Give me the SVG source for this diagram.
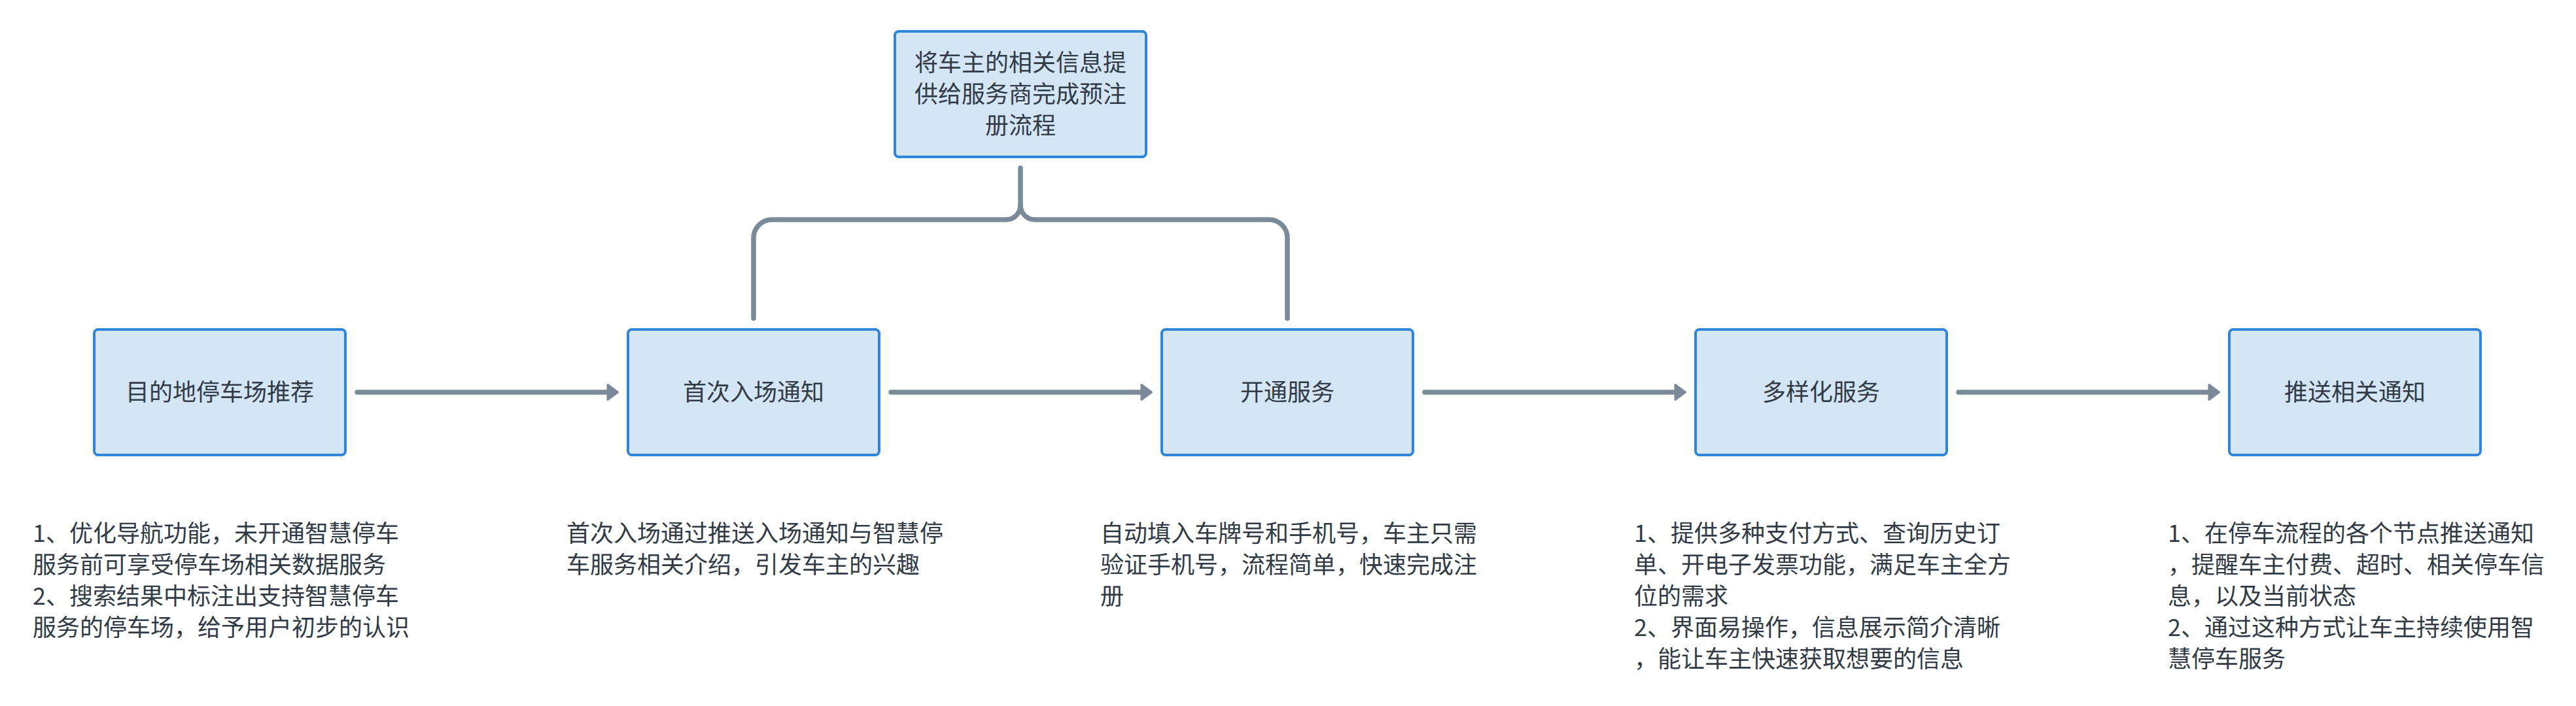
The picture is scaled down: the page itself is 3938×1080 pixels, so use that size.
<svg xmlns="http://www.w3.org/2000/svg" width="3938" height="1080" viewBox="0 0 3938 1080">
<defs>
<style>
.node{fill:#d4e5f6;stroke:#2f86d8;stroke-width:4}
.lbl{font-family:"Noto Sans CJK SC","Noto Sans",sans-serif;font-size:36px;fill:#313b46}
.mid{text-anchor:middle}
.conn{fill:none;stroke:#7b8a99;stroke-width:7.5;stroke-linecap:round;stroke-linejoin:round}
</style>
<marker id="arr" markerUnits="userSpaceOnUse" viewBox="0 0 20 28" markerWidth="20" markerHeight="28" refX="2" refY="14" orient="auto">
<path d="M2,2.5 L17.5,14 L2,25.5 Z" fill="#7b8a99" stroke="#7b8a99" stroke-width="3" stroke-linejoin="round"/>
</marker>
</defs>
<rect width="3938" height="1080" fill="#ffffff"/>
<g id="connectors">
<line class="conn" x1="546" y1="600" x2="929" y2="600" marker-end="url(#arr)"/>
<line class="conn" x1="1362" y1="600" x2="1745" y2="600" marker-end="url(#arr)"/>
<line class="conn" x1="2178" y1="600" x2="2561" y2="600" marker-end="url(#arr)"/>
<line class="conn" x1="2994" y1="600" x2="3377" y2="600" marker-end="url(#arr)"/>
<path class="conn" d="M1152,487 V364 A28,28 0 0 1 1180,336 H1538 A22,22 0 0 0 1560,314 V257"/>
<path class="conn" d="M1560,314 A22,22 0 0 0 1582,336 H1940 A28,28 0 0 1 1968,364 V487"/>
</g>
<g id="node-top">
<rect class="node" x="1368" y="48" width="384" height="192" rx="6"/>
<text class="lbl mid" x="1560" y="109">将车主的相关信息提</text>
<text class="lbl mid" x="1560" y="157">供给服务商完成预注</text>
<text class="lbl mid" x="1560" y="205">册流程</text>
</g>
<g id="node-1">
<rect class="node" x="144" y="504" width="384" height="192" rx="6"/>
<text class="lbl mid" x="336" y="613">目的地停车场推荐</text>
</g>
<g id="node-2">
<rect class="node" x="960" y="504" width="384" height="192" rx="6"/>
<text class="lbl mid" x="1152" y="613">首次入场通知</text>
</g>
<g id="node-3">
<rect class="node" x="1776" y="504" width="384" height="192" rx="6"/>
<text class="lbl mid" x="1968" y="613">开通服务</text>
</g>
<g id="node-4">
<rect class="node" x="2592" y="504" width="384" height="192" rx="6"/>
<text class="lbl mid" x="2784" y="613">多样化服务</text>
</g>
<g id="node-5">
<rect class="node" x="3408" y="504" width="384" height="192" rx="6"/>
<text class="lbl mid" x="3600" y="613">推送相关通知</text>
</g>
<g id="note-1">
<text class="lbl" x="50" y="829">1、优化导航功能，未开通智慧停车</text>
<text class="lbl" x="50" y="877">服务前可享受停车场相关数据服务</text>
<text class="lbl" x="50" y="925">2、搜索结果中标注出支持智慧停车</text>
<text class="lbl" x="50" y="973">服务的停车场，给予用户初步的认识</text>
</g>
<g id="note-2">
<text class="lbl" x="866" y="829">首次入场通过推送入场通知与智慧停</text>
<text class="lbl" x="866" y="877">车服务相关介绍，引发车主的兴趣</text>
</g>
<g id="note-3">
<text class="lbl" x="1682" y="829">自动填入车牌号和手机号，车主只需</text>
<text class="lbl" x="1682" y="877">验证手机号，流程简单，快速完成注</text>
<text class="lbl" x="1682" y="925">册</text>
</g>
<g id="note-4">
<text class="lbl" x="2498" y="829">1、提供多种支付方式、查询历史订</text>
<text class="lbl" x="2498" y="877">单、开电子发票功能，满足车主全方</text>
<text class="lbl" x="2498" y="925">位的需求</text>
<text class="lbl" x="2498" y="973">2、界面易操作，信息展示简介清晰</text>
<text class="lbl" x="2498" y="1021">，能让车主快速获取想要的信息</text>
</g>
<g id="note-5">
<text class="lbl" x="3314" y="829">1、在停车流程的各个节点推送通知</text>
<text class="lbl" x="3314" y="877">，提醒车主付费、超时、相关停车信</text>
<text class="lbl" x="3314" y="925">息，以及当前状态</text>
<text class="lbl" x="3314" y="973">2、通过这种方式让车主持续使用智</text>
<text class="lbl" x="3314" y="1021">慧停车服务</text>
</g>
</svg>
